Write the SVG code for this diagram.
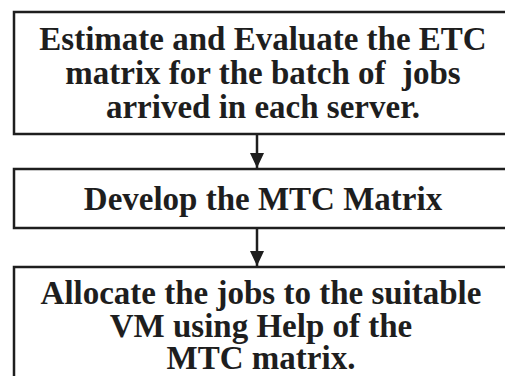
<svg xmlns="http://www.w3.org/2000/svg" width="505" height="376" viewBox="0 0 505 376">
<defs>
<style>
.box{fill:#fff;stroke:#1e1e1e;stroke-width:2.5}
.t{font-family:"Liberation Serif","Times New Roman",serif;font-weight:bold;font-size:33px;fill:#1e1e1e;text-anchor:middle;white-space:pre}
.ln{stroke:#1e1e1e;stroke-width:2.5;fill:none}
</style>
<marker id="ah" markerWidth="16" markerHeight="14" refX="15" refY="7" orient="auto" markerUnits="userSpaceOnUse">
<path d="M0,0 L15,7 L0,14 Z" fill="#1e1e1e"/>
</marker>
</defs>
<rect width="505" height="376" fill="#fff"/>
<g id="node1">
<rect class="box" x="14" y="12" width="520" height="122"/>
<text class="t" x="263" y="50">Estimate and Evaluate the ETC</text>
<text class="t" x="263" y="84" xml:space="preserve">matrix for the batch of  jobs</text>
<text class="t" x="263" y="118">arrived in each server.</text>
</g>
<g id="node2">
<rect class="box" x="14" y="169" width="520" height="59"/>
<text class="t" x="263" y="210">Develop the MTC Matrix</text>
</g>
<g id="node3">
<rect class="box" x="14" y="267" width="520" height="130"/>
<text class="t" x="261" y="304">Allocate the jobs to the suitable</text>
<text class="t" x="261" y="337">VM using Help of the</text>
<text class="t" x="261" y="369">MTC matrix.</text>
</g>
<g id="connectors">
<line class="ln" x1="257" y1="134" x2="257" y2="168" marker-end="url(#ah)"/>
<line class="ln" x1="257" y1="228" x2="257" y2="266" marker-end="url(#ah)"/>
</g>
</svg>
